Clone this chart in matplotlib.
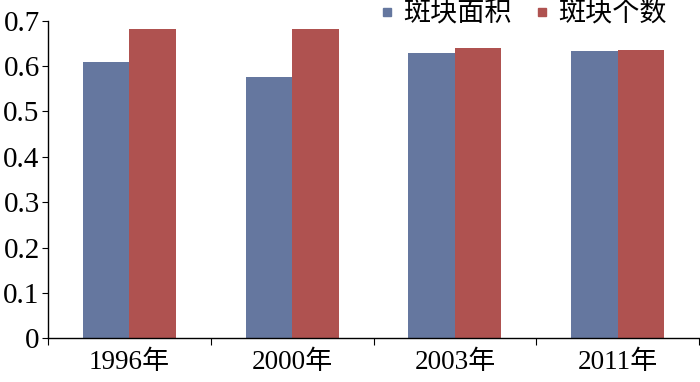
import matplotlib
matplotlib.use("Agg")
import matplotlib.pyplot as plt
from matplotlib.lines import Line2D
import numpy as np

plt.rcParams['font.family'] = ['Liberation Serif', 'Noto Sans CJK SC']

years = ['1996年', '2000年', '2003年', '2011年']
patch_area = [0.608, 0.575, 0.629, 0.633]
patch_count = [0.682, 0.682, 0.640, 0.635]
series_names = ['斑块面积', '斑块个数']
colors = ['#65779F', '#AF5250']

fig = plt.figure(figsize=(7, 3.82), dpi=100)
ax = fig.add_axes([0.0686, 0.114, 0.93, 0.832])

x = np.arange(len(years))
w = 0.286
ax.bar(x - w / 2, patch_area, w, color=colors[0])
ax.bar(x + w / 2, patch_count, w, color=colors[1])

ax.set_xlim(-0.5, len(years) - 0.5)
ax.set_ylim(0, 0.7)
ax.set_yticks(np.arange(0, 0.71, 0.1))
ax.set_yticklabels(['0', '0.1', '0.2', '0.3', '0.4', '0.5', '0.6', '0.7'])

ax.set_xticks(np.arange(-0.5, len(years), 1.0))
ax.set_xticklabels([])
ax.set_xticks(x, minor=True)
ax.set_xticklabels(years, minor=True)
ax.tick_params(axis='x', which='minor', length=0, pad=8, labelsize=19.5)
ax.tick_params(axis='x', which='major', length=5, direction='out')
ax.tick_params(axis='y', length=4, direction='out', labelsize=21, pad=2)

for s in ['top', 'right']:
    ax.spines[s].set_visible(False)
ax.spines['left'].set_linewidth(1.0)
ax.spines['bottom'].set_linewidth(1.0)

handles = [Line2D([], [], marker='s', linestyle='', markersize=6, color=c) for c in colors]
fig.legend(handles, series_names, loc='center', bbox_to_anchor=(0.743, 0.96),
           ncol=2, frameon=False, fontsize=19.5, handletextpad=0.1,
           columnspacing=0.6, handlelength=1.0)

fig.savefig('out.png', dpi=100)
